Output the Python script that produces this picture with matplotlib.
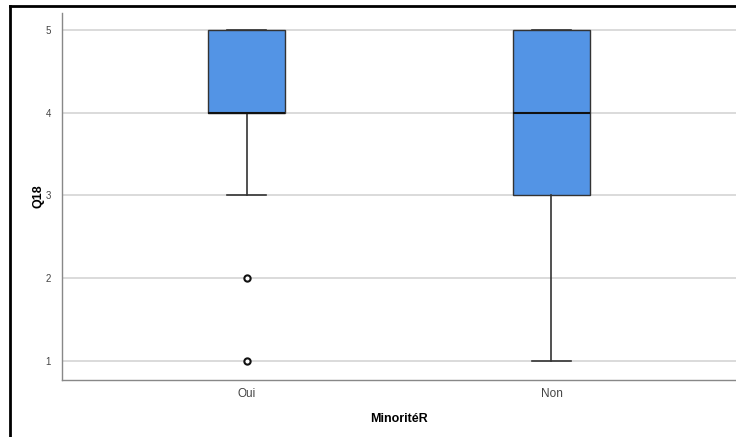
import matplotlib
matplotlib.use("Agg")
import matplotlib.pyplot as plt
from matplotlib.lines import Line2D

plt.rcParams["font.family"] = ["Liberation Sans", "DejaVu Sans"]

categories = ["Oui", "Non"]
q1 = [4, 3]
median = [4, 4]
q3 = [5, 5]
whislo = [3, 1]
whishi = [5, 5]
outliers = [[2, 1], []]
yticks = [1, 2, 3, 4, 5]

fig = plt.figure(figsize=(7.36, 4.37), dpi=100)
ax = fig.add_axes([62/736, 1-380/437, (736-62)/736, (380-13)/437])

stats = []
for i, c in enumerate(categories):
    stats.append(dict(label=c, q1=q1[i], med=median[i], q3=q3[i],
                      whislo=whislo[i], whishi=whishi[i], fliers=outliers[i]))

ax.yaxis.grid(True, color="#d4d4d4", linewidth=1.2, zorder=0)
ax.set_axisbelow(True)
ax.bxp(stats, positions=[0, 1], widths=0.25, patch_artist=True,
       boxprops=dict(facecolor="#5394e5", edgecolor="#333333", linewidth=1.0),
       medianprops=dict(color="#111111", linewidth=1.5),
       whiskerprops=dict(color="#333333", linewidth=1.2),
       capprops=dict(color="#333333", linewidth=1.2),
       capwidths=0.125,
       flierprops=dict(marker="o", markersize=4.5, markerfacecolor="white",
                       markeredgecolor="#111111", markeredgewidth=1.5))

ax.set_xlim(-0.605, 1.605)
ax.set_ylim(0.77, 5.205)
ax.set_yticks(yticks)
ax.set_xticks([0, 1])
ax.set_xticklabels(categories)
ax.tick_params(axis="both", length=0, labelsize=7, colors="#444444")
ax.tick_params(axis="x", labelsize=8.5, pad=6)
ax.tick_params(axis="y", pad=8)
for s in ["top", "right"]:
    ax.spines[s].set_visible(False)
for s in ["left", "bottom"]:
    ax.spines[s].set_color("#888888")
    ax.spines[s].set_linewidth(1.0)

ax.set_ylabel("Q18", fontsize=9, fontweight="bold", labelpad=1)
ax.set_xlabel("MinoritéR", fontsize=9, fontweight="bold", labelpad=9)

# outer frame (left and top black lines)
fig.add_artist(Line2D([9.5/736, 9.5/736], [0, 1-6/437], color="black", linewidth=2.0, transform=fig.transFigure))
fig.add_artist(Line2D([9.5/736, 1], [1-6/437, 1-6/437], color="black", linewidth=2.0, transform=fig.transFigure))

fig.savefig("out.png", dpi=100)
